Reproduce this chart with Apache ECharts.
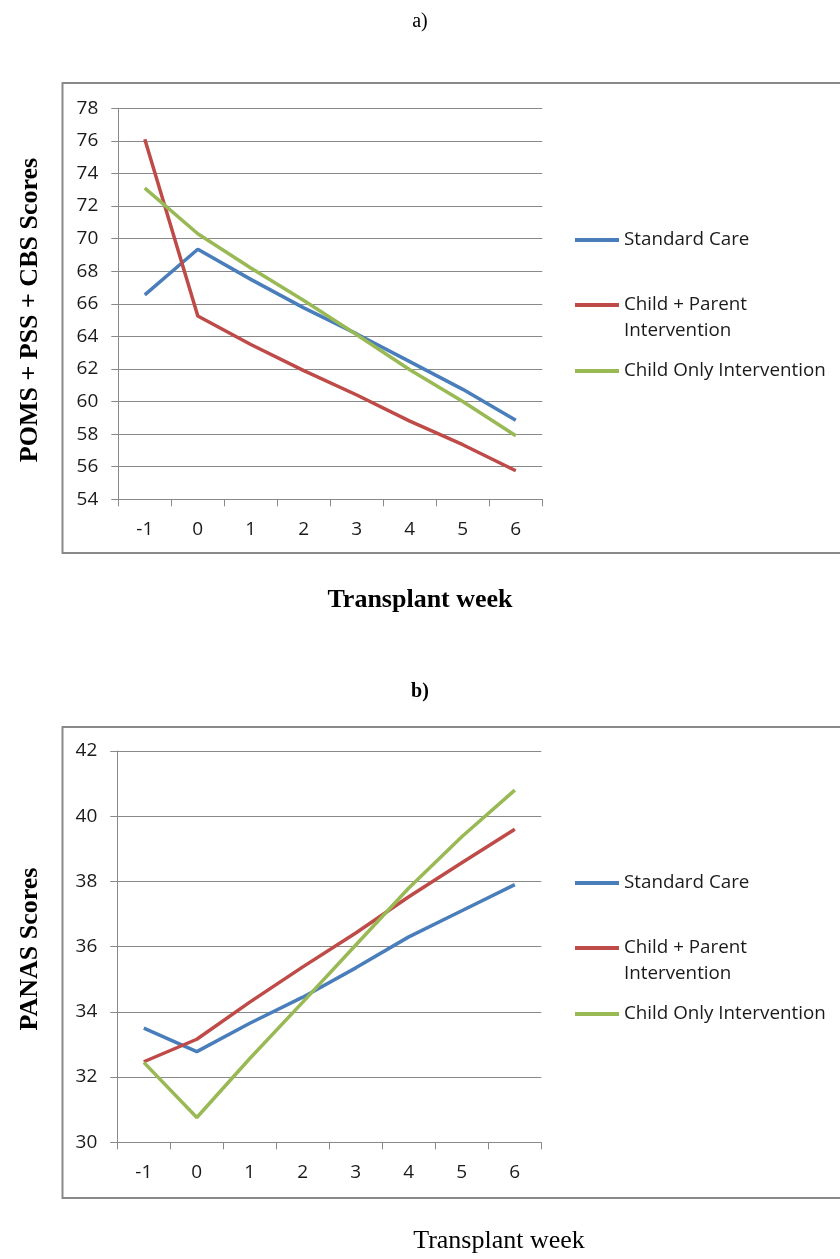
<!DOCTYPE html>
<html>
<head>
<meta charset="utf-8">
<script src="https://cdn.jsdelivr.net/npm/echarts@6/dist/echarts.min.js"></script>
<style>
html,body{margin:0;padding:0;background:#fff;}
#c{width:840px;height:1259px;}
</style>
</head>
<body>
<div id="c"></div>
<script>
// ---- data ----
var weeks = ['-1','0','1','2','3','4','5','6'];
var seriesNames = ['Standard Care', 'Child + Parent Intervention', 'Child Only Intervention'];
// Panel a) POMS + PSS + CBS Scores
var aStandard   = [66.55, 69.35, 67.5, 65.75, 64.15, 62.45, 60.75, 58.85];
var aChildParent= [76.1, 65.25, 63.5, 61.9, 60.4, 58.8, 57.35, 55.75];
var aChildOnly  = [73.1, 70.3, 68.2, 66.2, 64.1, 61.95, 60.0, 57.9];
var aTicks = {min: 54, max: 78, interval: 2};
// Panel b) PANAS Scores
var bStandard   = [33.5, 32.78, 33.65, 34.45, 35.35, 36.3, 37.1, 37.9];
var bChildParent= [32.47, 33.16, 34.3, 35.38, 36.42, 37.53, 38.57, 39.6];
var bChildOnly  = [32.45, 30.76, 32.57, 34.3, 36.05, 37.8, 39.37, 40.8];
var bTicks = {min: 30, max: 42, interval: 2};

var colors = ['#4a7ebb', '#be4b48', '#98b954'];
var gridColor = '#898989';
var sans = '"Open Sans", sans-serif';
var serif = '"Liberation Serif", "DejaVu Serif", serif';

function xAxisFor(gi){
  return {
    type: 'category', gridIndex: gi, data: weeks, boundaryGap: true,
    axisLine: {show: true, lineStyle: {color: gridColor, width: 1}},
    axisTick: {show: true, length: 7, lineStyle: {color: gridColor}},
    axisLabel: {color: '#1a1a1a', fontFamily: sans, fontSize: 19, margin: 21},
    splitLine: {show: false}
  };
}
function yAxisFor(gi, t){
  return {
    type: 'value', gridIndex: gi, min: t.min, max: t.max, interval: t.interval,
    axisLine: {show: true, lineStyle: {color: gridColor, width: 1}},
    axisTick: {show: true, length: 7, lineStyle: {color: gridColor}},
    axisLabel: {color: '#1a1a1a', fontFamily: sans, fontSize: 19, margin: 20},
    splitLine: {show: true, lineStyle: {color: gridColor, width: 1}}
  };
}
function line(name, data, ci, gi){
  return {
    name: name, type: 'line', data: data, xAxisIndex: gi, yAxisIndex: gi,
    showSymbol: false, symbol: 'none', smooth: false,
    lineStyle: {color: colors[ci], width: 3.5}, itemStyle: {color: colors[ci]},
    animation: false
  };
}
function legendFor(name, y, twoLine){
  return {
    data: [name], left: 575, top: twoLine ? y - 39 : y - 13, orient: 'vertical', padding: 0,
    icon: 'rect', itemWidth: 44, itemHeight: 4,
    formatter: twoLine ? function(){ return ' \nChild + Parent\nIntervention'; } : undefined,
    textStyle: {fontFamily: sans, fontSize: 18.8, color: '#1a1a1a', lineHeight: 26},
    selectedMode: false
  };
}

var chart = echarts.init(document.getElementById('c'), null, {renderer: 'canvas'});
chart.setOption({
  animation: false,
  backgroundColor: '#fff',
  grid: [
    {left: 118.3, top: 108.3, width: 424, height: 391},
    {left: 117.3, top: 751, width: 424, height: 391.3}
  ],
  xAxis: [xAxisFor(0), xAxisFor(1)],
  yAxis: [yAxisFor(0, aTicks), yAxisFor(1, bTicks)],
  legend: [
    legendFor(seriesNames[0], 240, false),
    legendFor(seriesNames[1], 305, true),
    legendFor(seriesNames[2], 371, false),
    legendFor(seriesNames[0], 883, false),
    legendFor(seriesNames[1], 948, true),
    legendFor(seriesNames[2], 1014, false)
  ],
  series: [
    line(seriesNames[0], aStandard, 0, 0),
    line(seriesNames[1], aChildParent, 1, 0),
    line(seriesNames[2], aChildOnly, 2, 0),
    line(seriesNames[0], bStandard, 0, 1),
    line(seriesNames[1], bChildParent, 1, 1),
    line(seriesNames[2], bChildOnly, 2, 1)
  ],
  graphic: [
    {type: 'rect', shape: {x: 62.5, y: 83, width: 800, height: 470}, style: {fill: 'none', stroke: gridColor, lineWidth: 2}, z: -1},
    {type: 'rect', shape: {x: 62.5, y: 727, width: 800, height: 471}, style: {fill: 'none', stroke: gridColor, lineWidth: 2}, z: -1},
    {type: 'text', x: 420, y: 22, style: {text: 'a)', font: '20px ' + serif, fill: '#000', textAlign: 'center', textVerticalAlign: 'middle'}},
    {type: 'text', x: 420, y: 692, style: {text: 'b)', font: 'bold 20px ' + serif, fill: '#000', textAlign: 'center', textVerticalAlign: 'middle'}},
    {type: 'text', x: 420, y: 600, style: {text: 'Transplant week', font: 'bold 26px ' + serif, fill: '#000', textAlign: 'center', textVerticalAlign: 'middle'}},
    {type: 'text', x: 499, y: 1241, style: {text: 'Transplant week', font: '26px ' + serif, fill: '#000', textAlign: 'center', textVerticalAlign: 'middle'}},
    {type: 'text', x: 30, y: 310, rotation: Math.PI/2, style: {text: 'POMS + PSS + CBS Scores', font: 'bold 26px ' + serif, fill: '#000', textAlign: 'center', textVerticalAlign: 'middle'}},
    {type: 'text', x: 30, y: 949, rotation: Math.PI/2, style: {text: 'PANAS Scores', font: 'bold 26px ' + serif, fill: '#000', textAlign: 'center', textVerticalAlign: 'middle'}}
  ]
});
</script>
</body>
</html>
